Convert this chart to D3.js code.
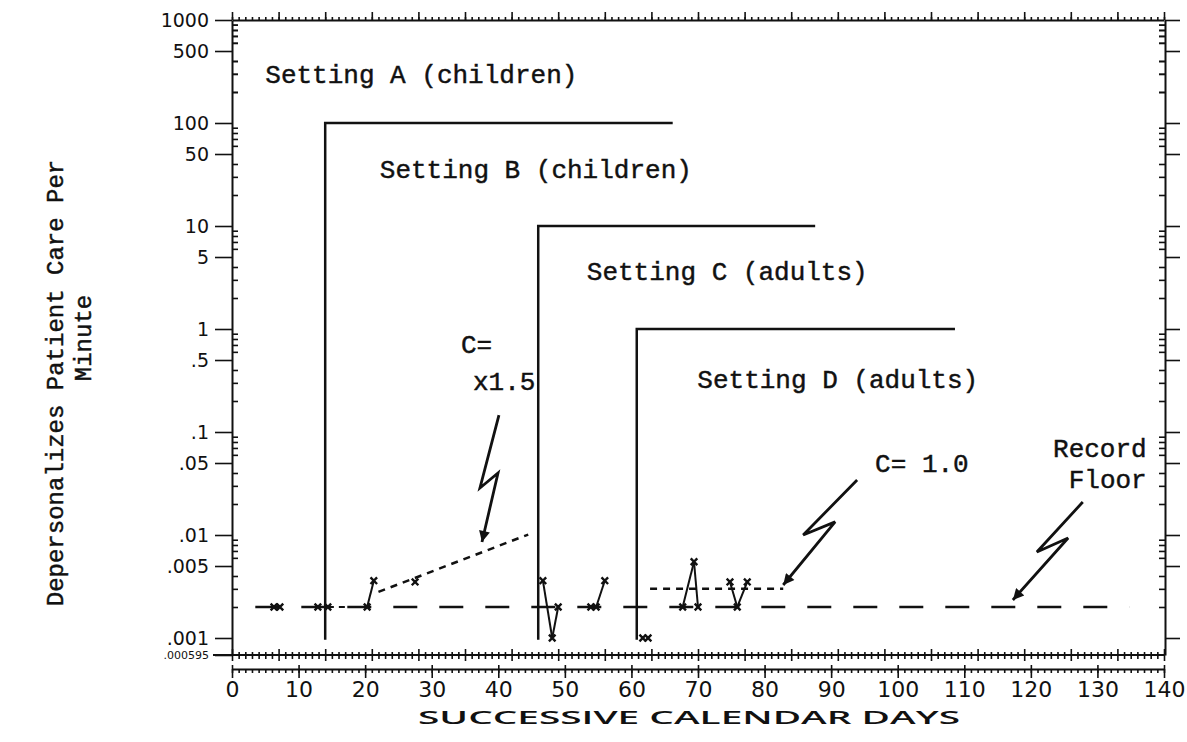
<!DOCTYPE html>
<html>
<head>
<meta charset="utf-8">
<script src="https://cdn.jsdelivr.net/npm/d3@7/dist/d3.min.js"></script>
<style>
  body { margin: 0; background: #fff; }
  svg { display: block; background: #fff; }
  .typed { font-family: "Liberation Mono", "DejaVu Sans Mono", monospace; fill: #111; stroke: #111; stroke-width: 0.45px; }
</style>
</head>
<body>
<svg id="chart" width="1187" height="742"></svg>
<script>
// y axis (log), labelled ticks
var yTickValues = [1000, 500, 100, 50, 10, 5, 1, 0.5, 0.1, 0.05, 0.01, 0.005, 0.001, 0.000595];
var yTickLabels = ["1000", "500", "100", "50", "10", "5", "1", ".5", ".1", ".05", ".01", ".005", ".001", ".000595"];
var yDecades = [0.001, 0.01, 0.1, 1, 10, 100];
var yMinorSteps = [2, 3, 4, 6, 7, 8, 9];

// x axis, days
var xTickValues = [0, 10, 20, 30, 40, 50, 60, 70, 80, 90, 100, 110, 120, 130, 140];
var xTickLabels = ["0", "10", "20", "30", "40", "50", "60", "70", "80", "90", "100", "110", "120", "130", "140"];

// phase change lines: start day, top level, end day
var phaseStart = [14, 46, 60.8];
var phaseTop = [100, 10, 1];
var phaseEnd = [66.2, 87.6, 108.6];

// setting labels
var settingLabels = ["Setting A (children)", "Setting B (children)", "Setting C (adults)", "Setting D (adults)"];
var settingDay = [5, 22.2, 53.3, 69.9];
var settingValue = [244, 29.2, 2.99, 0.267];

// record floor
var floorValue = 0.002;
var floorDays = [3.5, 134.8];

// daily counts: day, rate, link to previous point (0 none, 1 solid, 2 dotted)
var pointDays =   [6.3, 7.2, 12.9, 14.4, 20.3, 21.3, 27.5, 46.7, 48.1, 49.0, 53.9, 54.7, 56.0, 61.7, 62.5, 67.7, 69.4, 70.0, 74.8, 75.9, 77.4];
var pointValues = [0.002, 0.002, 0.002, 0.002, 0.002, 0.0036, 0.0035, 0.0036, 0.001, 0.002, 0.002, 0.002, 0.0036, 0.001, 0.001, 0.002, 0.0055, 0.002, 0.0035, 0.002, 0.0035];
var pointLinks =  [0, 0, 0, 0, 2, 1, 0, 0, 1, 1, 0, 0, 1, 0, 0, 0, 1, 1, 0, 1, 1];

// celeration lines
var celerationB = [[22, 0.0028], [44.5, 0.0101]];
var celerationD = [[62.8, 0.003], [82.8, 0.003]];

// lightning arrows
var arrowCeleB = [[40.1, 0.146], [37.25, 0.0286], [39.96, 0.040], [37.55, 0.00855]];
var arrowCeleD = [[93.9, 0.0342], [85.8, 0.010], [90.6, 0.0134], [82.8, 0.00327]];
var arrowFloor = [[127.8, 0.0209], [120.9, 0.00684], [125.6, 0.00935], [117.3, 0.00234]];

// annotations
var noteTexts = ["C=", "x1.5", "C= 1.0"];
var noteDays = [34.4, 36.2, 96.6];
var noteValues = [0.585, 0.256, 0.0409];
var floorNote = ["Record", "Floor"];
var floorNoteValues = [0.0572, 0.0286];
var floorNoteDay = 137.4;

var svg = d3.select("#chart");

var plotLeft = 232, plotRight = 1164, plotTop = 20, plotBottom = 655, plotLower = 669;

var xScale = d3.scaleLinear()
    .domain([0, 140])
    .range([plotLeft, plotRight]);

// the bottom .000595 line is squeezed under .001 on the original paper
var yScale = d3.scaleLog()
    .domain([0.000595, 0.001, 1000])
    .range([plotBottom, 638, plotTop]);

var yMinor = [];
yDecades.forEach(function(d){
    yMinorSteps.forEach(function(m){ yMinor.push(d * m); });
});
yMinor.push(200, 300, 400, 600, 700, 800, 900);

var days = d3.range(0, 141, 1),
    weeks = d3.range(0, 141, 7);

function styleAxis(g) {
    g.selectAll("line").style("stroke", "#111").style("stroke-width", "1.6px");
    g.select(".domain").style("stroke", "#111").style("stroke-width", "2px");
}

// left axis
svg.append("g")
    .attr("transform", "translate(" + plotLeft + ",0)")
    .call(d3.axisLeft(yScale).tickValues(yTickValues)
        .tickFormat(function(d, i){ return yTickLabels[i]; })
        .tickSize(17).tickSizeOuter(0).tickPadding(6))
    .call(styleAxis)
    .selectAll("text")
    .style("font-family", "DejaVu Sans, sans-serif")
    .style("font-size", function(d){ return d < 0.001 ? "11px" : "19px"; })
    .style("fill", "#111");

svg.append("g")
    .attr("transform", "translate(" + plotLeft + ",0)")
    .call(d3.axisRight(yScale).tickValues(yMinor).tickSize(6).tickFormat(""))
    .call(styleAxis)
    .select(".domain").remove();

// right axis
svg.append("g")
    .attr("transform", "translate(" + (plotRight + 1) + ",0)")
    .call(d3.axisRight(yScale).tickValues(yTickValues.slice(0, 13)).tickSize(15).tickSizeOuter(0).tickFormat(""))
    .call(styleAxis);

svg.append("g")
    .attr("transform", "translate(" + (plotRight + 1) + ",0)")
    .call(d3.axisLeft(yScale).tickValues(yMinor).tickSize(6).tickFormat(""))
    .call(styleAxis)
    .select(".domain").remove();

// top axis
svg.append("g")
    .attr("transform", "translate(0," + plotTop + ")")
    .call(d3.axisTop(xScale).tickValues(weeks).tickSize(8).tickSizeOuter(0).tickFormat(""))
    .call(styleAxis);

svg.append("g")
    .attr("transform", "translate(0," + plotTop + ")")
    .call(d3.axisTop(xScale).tickValues(days).tickSize(3).tickFormat(""))
    .call(styleAxis)
    .select(".domain").remove();

// bottom: upper rule with crossing ticks
svg.append("line")
    .attr("x1", plotLeft - 19).attr("x2", plotRight + 1)
    .attr("y1", plotBottom).attr("y2", plotBottom)
    .style("stroke", "#111").style("stroke-width", "2px");

svg.append("g")
    .attr("transform", "translate(0," + plotBottom + ")")
    .call(d3.axisBottom(xScale).tickValues(days).tickFormat(""))
    .call(styleAxis)
    .call(function(g){
        g.select(".domain").remove();
        g.selectAll(".tick line")
            .attr("y1", function(d){ return d % 7 === 0 ? -6 : -3; })
            .attr("y2", function(d){ return d % 7 === 0 ? 6 : 4; });
    });

// bottom: lower rule with day labels
svg.append("g")
    .attr("transform", "translate(0," + plotLower + ")")
    .call(d3.axisBottom(xScale).tickValues(days).tickSize(4).tickSizeOuter(0).tickFormat(""))
    .call(styleAxis);

svg.append("g")
    .attr("transform", "translate(0," + plotLower + ")")
    .call(d3.axisBottom(xScale).tickValues(xTickValues)
        .tickFormat(function(d, i){ return xTickLabels[i]; })
        .tickSize(9).tickPadding(3))
    .call(styleAxis)
    .call(function(g){
        g.select(".domain").remove();
        g.selectAll(".tick line").attr("y1", -4);
    })
    .selectAll("text")
    .style("font-family", "DejaVu Sans, sans-serif")
    .style("font-size", "22px")
    .style("fill", "#111");

// axis titles
svg.append("text")
    .attr("x", 689).attr("y", 724)
    .attr("text-anchor", "middle")
    .attr("textLength", 542)
    .attr("lengthAdjust", "spacingAndGlyphs")
    .style("font-family", "Open Sans, sans-serif")
    .style("font-weight", "600")
    .style("font-size", "18px")
    .style("fill", "#111")
    .text("SUCCESSIVE CALENDAR DAYS");

svg.append("text")
    .attr("class", "typed")
    .attr("transform", "translate(63,383) rotate(-90)")
    .attr("text-anchor", "middle")
    .style("font-size", "24px")
    .text("Depersonalizes Patient Care Per");

svg.append("text")
    .attr("class", "typed")
    .attr("transform", "translate(91,338) rotate(-90)")
    .attr("text-anchor", "middle")
    .style("font-size", "24px")
    .text("Minute");

// phase change lines
var phaseLine = d3.line()
    .x(function(d){ return xScale(d[0]); })
    .y(function(d){ return yScale(d[1]); });

phaseStart.forEach(function(d, i){
    svg.append("path")
        .attr("d", phaseLine([[d, 0.00095], [d, phaseTop[i]], [phaseEnd[i], phaseTop[i]]]))
        .style("fill", "none")
        .style("stroke", "#111")
        .style("stroke-width", "2.5px");
});

svg.selectAll("text.setting")
    .data(settingLabels)
    .enter()
    .append("text")
    .attr("class", "typed setting")
    .attr("x", function(d, i){ return xScale(settingDay[i]); })
    .attr("y", function(d, i){ return yScale(settingValue[i]); })
    .style("font-size", "26px")
    .text(function(d){ return d; });

// record floor
svg.append("line")
    .attr("x1", xScale(floorDays[0])).attr("x2", xScale(floorDays[1]))
    .attr("y1", yScale(floorValue)).attr("y2", yScale(floorValue))
    .style("stroke", "#111")
    .style("stroke-width", "2.5px")
    .style("stroke-dasharray", "24,22");

// celeration lines
[celerationB, celerationD].forEach(function(c){
    svg.append("path")
        .attr("d", phaseLine(c))
        .style("fill", "none")
        .style("stroke", "#111")
        .style("stroke-width", "2.5px")
        .style("stroke-dasharray", "7,6");
});

// links between daily points
pointDays.forEach(function(d, i){
    if (!pointLinks[i]) return;
    svg.append("line")
        .attr("x1", xScale(pointDays[i - 1])).attr("y1", yScale(pointValues[i - 1]))
        .attr("x2", xScale(d)).attr("y2", yScale(pointValues[i]))
        .style("stroke", "#111")
        .style("stroke-width", "2px")
        .style("stroke-dasharray", pointLinks[i] === 2 ? "6,5" : null);
});

// daily points
svg.selectAll("path.point")
    .data(pointDays)
    .enter()
    .append("path")
    .attr("class", "point")
    .attr("d", d3.symbol().type(d3.symbolX).size(30))
    .attr("transform", function(d, i){
        return "translate(" + xScale(d) + "," + yScale(pointValues[i]) + ")";
    })
    .style("fill", "none")
    .style("stroke", "#111")
    .style("stroke-width", "2.4px");

// lightning arrows
svg.append("defs").append("marker")
    .attr("id", "head")
    .attr("viewBox", "0 -5 10 10")
    .attr("refX", 10).attr("refY", 0)
    .attr("markerUnits", "userSpaceOnUse")
    .attr("markerWidth", 20).attr("markerHeight", 11)
    .attr("orient", "auto")
    .append("path")
    .attr("d", "M0,-5L10,0L0,5Z")
    .style("fill", "#111");

[arrowCeleB, arrowCeleD, arrowFloor].forEach(function(a){
    svg.append("path")
        .attr("d", phaseLine(a))
        .attr("marker-end", "url(#head)")
        .style("fill", "none")
        .style("stroke", "#111")
        .style("stroke-width", "2.8px")
        .style("stroke-linejoin", "miter");
});

// annotations
svg.selectAll("text.note")
    .data(noteTexts)
    .enter()
    .append("text")
    .attr("class", "typed note")
    .attr("x", function(d, i){ return xScale(noteDays[i]); })
    .attr("y", function(d, i){ return yScale(noteValues[i]); })
    .style("font-size", "26px")
    .text(function(d){ return d; });

svg.selectAll("text.floornote")
    .data(floorNote)
    .enter()
    .append("text")
    .attr("class", "typed floornote")
    .attr("x", xScale(floorNoteDay))
    .attr("y", function(d, i){ return yScale(floorNoteValues[i]); })
    .attr("text-anchor", "end")
    .style("font-size", "26px")
    .text(function(d){ return d; });
</script>
</body>
</html>
